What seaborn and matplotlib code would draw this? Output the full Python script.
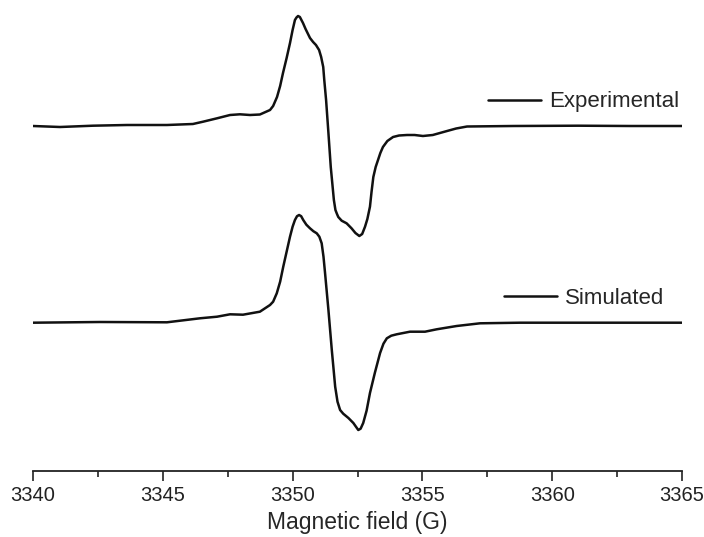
import matplotlib
matplotlib.use('Agg')
import matplotlib.pyplot as plt
from matplotlib.ticker import MultipleLocator
import numpy as np
import pandas as pd
import seaborn as sns

sns.set_theme(style='white')
plt.rcParams['font.family'] = ['Liberation Sans', 'DejaVu Sans']

# values (field in G, signal in arbitrary units)
exp_field = [3340.00, 3341.04, 3342.31, 3343.62, 3345.16, 3346.16, 3346.55, 3347.09,
             3347.59, 3347.97, 3348.36, 3348.74, 3349.13, 3349.25, 3349.40, 3349.52,
             3349.63, 3349.77, 3349.90, 3350.00, 3350.09, 3350.15, 3350.21, 3350.28,
             3350.40, 3350.50, 3350.67, 3350.79, 3350.90, 3351.02, 3351.10, 3351.18,
             3351.22, 3351.29, 3351.38, 3351.47, 3351.59, 3351.65, 3351.71, 3351.76,
             3351.89, 3352.08, 3352.27, 3352.42, 3352.57, 3352.68, 3352.79, 3352.88,
             3352.98, 3353.04, 3353.11, 3353.20, 3353.29, 3353.38, 3353.48, 3353.65,
             3353.87, 3354.10, 3354.41, 3354.70, 3355.02, 3355.40, 3355.95, 3356.30,
             3356.72, 3358.50, 3361.00, 3363.00, 3365.00]
exp_signal = [0, -1, 0.3, 1, 1, 2, 4.3, 7.7,
              11, 11.7, 11, 11.5, 16, 20, 29, 40,
              53, 68, 83, 96, 106, 108.5, 110, 109,
              103, 97, 88, 84, 81, 76, 69, 59,
              46, 26, -7, -41, -74, -84, -88, -91,
              -94.7, -97.3, -102.3, -107, -110, -108, -100.7, -93,
              -80.7, -66, -51, -41, -34, -27, -21, -15,
              -11, -9.5, -9, -9, -10, -9, -5, -2.5,
              -0.5, 0, 0.3, 0, 0]

sim_field = [3340.00, 3342.58, 3345.16, 3346.43, 3347.09, 3347.59, 3348.09, 3348.74,
             3349.13, 3349.25, 3349.39, 3349.52, 3349.64, 3349.77, 3349.90, 3350.00,
             3350.09, 3350.17, 3350.25, 3350.33, 3350.41, 3350.53, 3350.67, 3350.80,
             3350.93, 3351.03, 3351.12, 3351.19, 3351.25, 3351.38, 3351.51, 3351.58,
             3351.64, 3351.73, 3351.83, 3351.95, 3352.15, 3352.34, 3352.44, 3352.53,
             3352.62, 3352.72, 3352.85, 3352.98, 3353.17, 3353.37, 3353.50, 3353.63,
             3353.80, 3354.01, 3354.52, 3355.10, 3355.55, 3356.32, 3357.22, 3358.76,
             3365.00]
sim_signal = [0, 0.7, 0.4, 4.4, 6, 8.4, 8.0, 11,
              17.7, 21, 29.4, 41, 56, 71, 86, 96,
              102.7, 106.5, 107.7, 106.5, 102.7, 98, 94.4, 91.5,
              89.4, 86, 79.4, 66, 49.7, 12.7, -27.3, -47,
              -64, -79, -87.3, -91, -95.3, -100.3, -104, -107.3,
              -106, -100.3, -88, -70.3, -50, -30.3, -21, -15.6,
              -13, -11.6, -9, -9, -6.6, -3.3, -0.6, 0,
              0]

# vertical stacking of the two spectra
exp_offset = -126
sim_offset = -322.7

exp = pd.DataFrame({'field': exp_field, 'signal': np.array(exp_signal) + exp_offset})
sim = pd.DataFrame({'field': sim_field, 'signal': np.array(sim_signal) + sim_offset})

fig = plt.figure(figsize=(7.04, 5.37), dpi=100)
ax = fig.add_axes([33 / 704, 66 / 537, 649 / 704, 471 / 537])

line_col = '#111111'
sns.lineplot(data=exp, x='field', y='signal', ax=ax, color=line_col, lw=1.8,
             sort=False, estimator=None)
sns.lineplot(data=sim, x='field', y='signal', ax=ax, color=line_col, lw=1.8,
             sort=False, estimator=None)
for ln in ax.lines:
    ln.set_solid_joinstyle('round')

ax.set_xlim(3340, 3365)
ax.set_ylim(-471, 0)
ax.set_xticks(range(3340, 3366, 5))
ax.xaxis.set_minor_locator(MultipleLocator(2.5))
ax.set_yticks([])
ax.set_ylabel('')
ax.set_xlabel('Magnetic field (G)', fontsize=16.5, labelpad=4)
ax.tick_params(axis='x', which='major', direction='out', length=7, width=1.2,
               colors='#222222', labelsize=14.5, pad=4, bottom=True)
ax.tick_params(axis='x', which='minor', direction='out', length=4.5, width=1.2,
               colors='#222222', bottom=True)
for s in ['left', 'top', 'right']:
    ax.spines[s].set_visible(False)
ax.spines['bottom'].set_color('#222222')
ax.spines['bottom'].set_linewidth(1.3)
ax.patch.set_alpha(0)

h_exp, h_sim = ax.lines[0], ax.lines[1]
leg1 = ax.legend([h_exp], ['Experimental'], loc='center right', frameon=False,
                 bbox_to_anchor=(679 / 704, 1 - 102 / 537), bbox_transform=fig.transFigure,
                 fontsize=16, handlelength=2.4, handletextpad=0.35, borderpad=0,
                 borderaxespad=0)
ax.add_artist(leg1)
ax.legend([h_sim], ['Simulated'], loc='center right', frameon=False,
          bbox_to_anchor=(664 / 704, 1 - 298 / 537), bbox_transform=fig.transFigure,
          fontsize=16, handlelength=2.4, handletextpad=0.35, borderpad=0,
          borderaxespad=0)

fig.savefig('out.png', dpi=100)
